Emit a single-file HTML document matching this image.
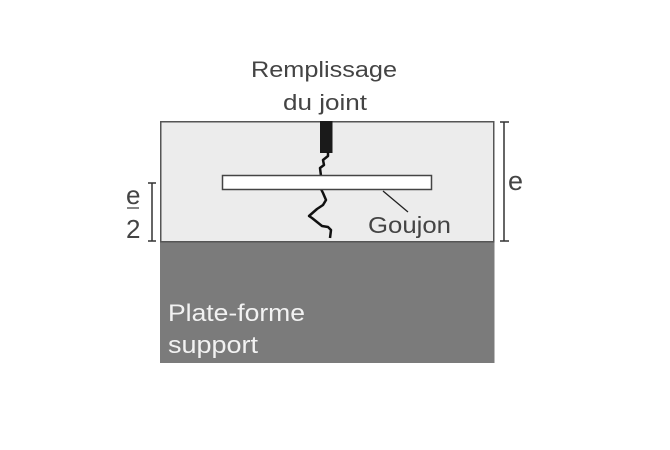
<!DOCTYPE html>
<html>
<head>
<meta charset="utf-8">
<style>
  html,body{margin:0;padding:0;background:#fff;}
  svg{display:block;}
  text{font-family:"Liberation Sans",sans-serif;}
</style>
</head>
<body>
<svg width="670" height="450" viewBox="0 0 670 450" xmlns="http://www.w3.org/2000/svg">
  <rect x="0" y="0" width="670" height="450" fill="#ffffff"/>
  <!-- dark support platform -->
  <rect x="160" y="242" width="334.5" height="121" fill="#7b7b7b"/>
  <!-- light slab -->
  <rect x="160.75" y="121.75" width="333" height="120" fill="#ececec" stroke="#555" stroke-width="1.5"/>
  <!-- joint filler -->
  <rect x="320" y="121" width="12.5" height="32" fill="#1a1a1a"/>
  <!-- upper crack -->
  <polyline points="328,152 328,156 323,160 324,165 320,168 321,176" fill="none" stroke="#111" stroke-width="2.5" stroke-linejoin="round"/>
  <!-- lower crack -->
  <polyline points="321,189 323,193 326,200 323,205 317,209 309,216 312,218 317,222 322,226 328,227 331,230 330,238" fill="none" stroke="#111" stroke-width="2.5" stroke-linejoin="round"/>
  <!-- dowel -->
  <rect x="222.5" y="175.5" width="209" height="14" fill="#ffffff" stroke="#444" stroke-width="1.5"/>
  <!-- leader line -->
  <line x1="383" y1="191" x2="408" y2="212" stroke="#222" stroke-width="1.3"/>
  <!-- right bracket e -->
  <line x1="504" y1="122" x2="504" y2="241" stroke="#333" stroke-width="1.5"/>
  <line x1="500" y1="122" x2="509" y2="122" stroke="#333" stroke-width="1.5"/>
  <line x1="500" y1="241" x2="509" y2="241" stroke="#333" stroke-width="1.5"/>
  <!-- left bracket e/2 -->
  <line x1="152" y1="183" x2="152" y2="241" stroke="#333" stroke-width="1.5"/>
  <line x1="148" y1="183" x2="156" y2="183" stroke="#333" stroke-width="1.5"/>
  <line x1="148" y1="241" x2="156" y2="241" stroke="#333" stroke-width="1.5"/>
  <!-- fraction bar -->
  <line x1="127" y1="208" x2="139" y2="208" stroke="#444" stroke-width="1.3"/>

  <!-- labels -->
  <text x="251" y="77" font-size="22" fill="#444" textLength="146" lengthAdjust="spacingAndGlyphs">Remplissage</text>
  <text x="283" y="110" font-size="22" fill="#444" textLength="84" lengthAdjust="spacingAndGlyphs">du joint</text>
  <text x="368" y="233" font-size="23" fill="#444" textLength="83" lengthAdjust="spacingAndGlyphs">Goujon</text>
  <text x="168" y="321" font-size="24" fill="#f2f2f2" textLength="137" lengthAdjust="spacingAndGlyphs">Plate-forme</text>
  <text x="168" y="353" font-size="24" fill="#f2f2f2" textLength="90" lengthAdjust="spacingAndGlyphs">support</text>
  <text x="508" y="190" font-size="27" fill="#444">e</text>
  <text x="126" y="204" font-size="26" fill="#444">e</text>
  <text x="126" y="238" font-size="26" fill="#444">2</text>
</svg>
</body>
</html>
